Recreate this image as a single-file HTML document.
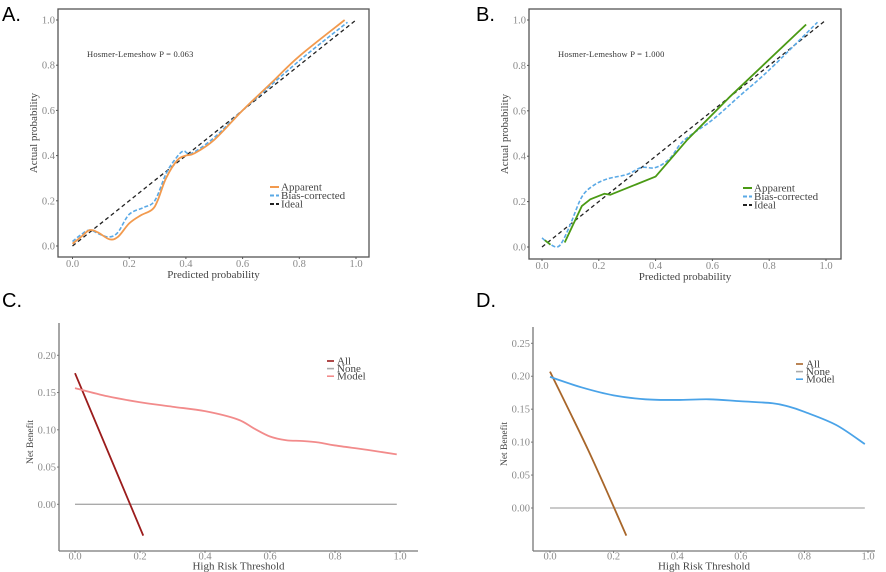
<!DOCTYPE html>
<html><head><meta charset="utf-8"><style>
html,body{margin:0;padding:0;background:#fff;width:886px;height:572px;overflow:hidden}
svg{display:block}
.tk{font-family:"Liberation Serif",serif;font-size:10.5px;fill:#8a8a8a}
.ti{font-family:"Liberation Serif",serif;font-size:11px;fill:#444}
.lg{font-family:"Liberation Serif",serif;font-size:11px;fill:#444}
.pl{font-family:"Liberation Sans",sans-serif;font-size:20px;fill:#000}
.hl{font-family:"Liberation Serif",serif;font-size:8.5px;fill:#333;letter-spacing:0.2px}
</style></head><body>
<svg id="c" width="886" height="572" xmlns="http://www.w3.org/2000/svg"></svg>
<script>
// ---- data ----
const calTicks=[0,0.2,0.4,0.6,0.8,1.0];
const calTickLabels=["0.0","0.2","0.4","0.6","0.8","1.0"];
const aApparentX=[0,0.03,0.06,0.09,0.13,0.16,0.2,0.24,0.28,0.3,0.33,0.37,0.4,0.43,0.5,0.6,0.7,0.8,0.96];
const aApparentY=[0.01,0.04,0.07,0.06,0.03,0.04,0.1,0.135,0.16,0.2,0.3,0.38,0.4,0.41,0.47,0.6,0.72,0.84,1.0];
const aBiasX=[0,0.03,0.06,0.1,0.13,0.16,0.2,0.25,0.29,0.33,0.36,0.39,0.42,0.5,0.6,0.8,0.97];
const aBiasY=[0.02,0.05,0.07,0.05,0.04,0.06,0.14,0.17,0.2,0.32,0.38,0.42,0.41,0.48,0.6,0.82,0.99];
const bApparent1X=[0.01,0.03];
const bApparent1Y=[0.03,0.01];
const bApparent2X=[0.08,0.14,0.17,0.22,0.24,0.4,0.51,0.66,0.93];
const bApparent2Y=[0.02,0.18,0.21,0.235,0.23,0.31,0.47,0.66,0.98];
const bBiasX=[0,0.02,0.05,0.07,0.1,0.14,0.18,0.23,0.3,0.35,0.4,0.45,0.5,0.6,0.7,0.8,0.97];
const bBiasY=[0.04,0.02,0.0,0.02,0.1,0.22,0.27,0.3,0.32,0.35,0.35,0.39,0.47,0.56,0.67,0.78,0.99];
const cTicksY=[0,0.05,0.1,0.15,0.2];
const cTickLabelsY=["0.00","0.05","0.10","0.15","0.20"];
const dTicksY=[0,0.05,0.1,0.15,0.2,0.25];
const dTickLabelsY=["0.00","0.05","0.10","0.15","0.20","0.25"];
const cAllX=[0,0.21];
const cAllY=[0.176,-0.042];
const cModelX=[0,0.1,0.2,0.3,0.4,0.5,0.55,0.6,0.65,0.7,0.75,0.8,0.9,0.99];
const cModelY=[0.156,0.145,0.137,0.131,0.125,0.114,0.102,0.091,0.086,0.085,0.083,0.079,0.073,0.067];
const dAllX=[0,0.06,0.12,0.18,0.24];
const dAllY=[0.207,0.148,0.088,0.024,-0.042];
const dModelX=[0,0.1,0.2,0.3,0.4,0.5,0.6,0.7,0.75,0.8,0.9,0.99];
const dModelY=[0.199,0.183,0.171,0.165,0.164,0.165,0.162,0.159,0.154,0.146,0.126,0.097];
const noneX=[0,0.99];
const noneY=[0,0];

const svg=document.getElementById('c');
const NS='http://www.w3.org/2000/svg';
function mk(tag,attrs,name,parent){const e=document.createElementNS(NS,tag);for(const k in attrs)e.setAttribute(k,attrs[k]);


(parent||svg).appendChild(e);return e;}
function txt(x,y,s,cls,name,anchor,rot){const t=mk('text',{x:x,y:y,class:cls,'text-anchor':anchor||'start'},name);if(rot)t.setAttribute('transform','rotate(-90 '+x+' '+y+')');t.textContent=s;return t;}
function lin(sx,sy){return (v)=>sx[0]+(v-sy[0])*(sx[1]-sx[0])/(sy[1]-sy[0]);}
function pathD(xs,ys,fx,fy,smooth){const p=xs.map((x,i)=>[fx(x),fy(ys[i])]);
 if(!smooth) return 'M'+p.map(q=>q[0].toFixed(1)+','+q[1].toFixed(1)).join(' L');
 let d='M'+p[0][0]+','+p[0][1];
 for(let i=0;i<p.length-1;i++){const p0=p[i-1]||p[i],p1=p[i],p2=p[i+1],p3=p[i+2]||p2;
  d+=' C'+(p1[0]+(p2[0]-p0[0])/6)+','+(p1[1]+(p2[1]-p0[1])/6)+' '+(p2[0]-(p3[0]-p1[0])/6)+','+(p2[1]-(p3[1]-p1[1])/6)+' '+p2[0]+','+p2[1];}
 return d;}
function series(xs,ys,fx,fy,color,w,dash,smooth,name){const a={d:pathD(xs,ys,fx,fy,smooth),fill:'none',stroke:color,'stroke-width':w,'stroke-linejoin':'round'};if(dash)a['stroke-dasharray']=dash;return mk('path',a,name);}

// ---- calibration panels ----
function calPanel(o){
 const fx=lin([o.x0,o.x1],[0,1]),fy=lin([o.y0,o.y1],[0,1]);
 txt(o.lx,o.ly,o.label,'pl',o.p+'-panel-label');
 mk('rect',{x:o.fx0,y:o.fy0,width:o.fx1-o.fx0,height:o.fy1-o.fy0,fill:'none',stroke:'#555','stroke-width':1.3},o.p+'-frame');
 calTicks.forEach((t,i)=>{
  txt(o.fx0-3,fy(t)+3.5,calTickLabels[i],'tk',o.p+'-y-tick-label','end');
  mk('line',{x1:o.fx0-2,x2:o.fx0,y1:fy(t),y2:fy(t),stroke:'#555'},o.p+'-y-tick');
  txt(fx(t),o.fy1+10,calTickLabels[i],'tk',o.p+'-x-tick-label','middle');
  mk('line',{x1:fx(t),x2:fx(t),y1:o.fy1,y2:o.fy1+2,stroke:'#555'},o.p+'-x-tick');
 });
 txt((o.fx0+o.fx1)/2,o.fy1+21,'Predicted probability','ti',o.p+'-x-axis-title','middle');
 txt(o.fx0-21,(o.fy0+o.fy1)/2,'Actual probability','ti',o.p+'-y-axis-title','middle',true);
 txt(o.hx,57,o.hl,'hl',o.p+'-hosmer-lemeshow-text');
 series([0,1],[0,1],fx,fy,'#222',1.3,'4,3',false,o.p+'-ideal-line');
 o.draw(fx,fy);
 const L=[['Apparent',o.c1,null],['Bias-corrected','#5aa9e6','4,2'],['Ideal','#222','4,2']];
 L.forEach((e,i)=>{const y=o.legy+i*8.5;
  const l=mk('line',{x1:o.legx,x2:o.legx+9,y1:y,y2:y,stroke:e[1],'stroke-width':2},o.p+'-legend-swatch');if(e[2])l.setAttribute('stroke-dasharray',e[2]);
  txt(o.legx+11,y+3.5,e[0],'lg',o.p+'-legend-entry');});
}
calPanel({p:'a',label:'A.',lx:2,ly:21,x0:72.5,x1:356,y0:246,y1:20,fx0:58,fx1:369,fy0:9,fy1:257,hx:87,hl:'Hosmer-Lemeshow  P  =  0.063',c1:'#f29a4e',legx:270,legy:187,
 draw:(fx,fy)=>{series(aBiasX,aBiasY,fx,fy,'#5aa9e6',1.6,'4,2',true,'a-bias-corrected-line');series(aApparentX,aApparentY,fx,fy,'#f29a4e',1.8,null,true,'a-apparent-line');}});
calPanel({p:'b',label:'B.',lx:476,ly:21,x0:542,x1:826,y0:247,y1:20,fx0:529,fx1:841,fy0:9,fy1:259,hx:558,hl:'Hosmer-Lemeshow  P  =  1.000',c1:'#4a9a14',legx:743,legy:188,
 draw:(fx,fy)=>{series(bBiasX,bBiasY,fx,fy,'#5aa9e6',1.6,'4,2',true,'b-bias-corrected-line');series(bApparent1X,bApparent1Y,fx,fy,'#4a9a14',1.8,null,false,'b-apparent-line-start');series(bApparent2X,bApparent2Y,fx,fy,'#4a9a14',1.8,null,false,'b-apparent-line');}});

// ---- decision curve panels ----
function dcaPanel(o){
 const fx=lin([o.x0,o.x1],[0,1]),fy=lin([o.y0,o.y1],[0,o.yv1]);
 txt(o.lx,o.ly,o.label,'pl',o.p+'-panel-label');
 mk('line',{x1:o.ax,x2:o.ax,y1:o.at,y2:o.ab,stroke:'#777','stroke-width':1.3},o.p+'-y-axis-line');
 mk('line',{x1:o.ax,x2:o.ar,y1:o.ab,y2:o.ab,stroke:'#777','stroke-width':1.3},o.p+'-x-axis-line');
 o.yt.forEach((t,i)=>{txt(o.ax-3,fy(t)+3.5,o.yl[i],'tk',o.p+'-y-tick-label','end');
  mk('line',{x1:o.ax-2,x2:o.ax,y1:fy(t),y2:fy(t),stroke:'#777'},o.p+'-y-tick');});
 calTicks.forEach((t,i)=>{txt(fx(t),o.ab+8.5,calTickLabels[i],'tk',o.p+'-x-tick-label','middle');
  mk('line',{x1:fx(t),x2:fx(t),y1:o.ab,y2:o.ab+2,stroke:'#777'},o.p+'-x-tick');});
 txt((o.ax+o.ar)/2,o.ab+18.5,'High Risk Threshold','ti',o.p+'-x-axis-title','middle');
 txt(o.ax-26,(o.at+o.ab)/2+5,'Net Benefit','ti',o.p+'-y-axis-title','middle',true).setAttribute('style','font-size:9.5px');
 series(noneX,noneY,fx,fy,'#aaa',1.3,null,false,o.p+'-none-line');
 series(o.allX,o.allY,fx,fy,o.cAll,1.8,null,true,o.p+'-all-line');
 series(o.mX,o.mY,fx,fy,o.cM,1.8,null,true,o.p+'-model-line');
 [['All',o.cAll],['None','#aaa'],['Model',o.cM]].forEach((e,i)=>{const y=o.legy+i*7.6;
  mk('line',{x1:o.legx,x2:o.legx+7,y1:y,y2:y,stroke:e[1],'stroke-width':1.6},o.p+'-legend-swatch');
  txt(o.legx+10,y+3.5,e[0],'lg',o.p+'-legend-entry');});
}
dcaPanel({p:'c',label:'C.',lx:2,ly:307,x0:75,x1:400,y0:504.3,y1:355.3,yv1:0.2,ax:59,at:323,ab:551,ar:418,yt:cTicksY,yl:cTickLabelsY,
 allX:cAllX,allY:cAllY,mX:cModelX,mY:cModelY,cAll:'#9b1c1c',cM:'#f28b8b',legx:327,legy:361});
dcaPanel({p:'d',label:'D.',lx:476,ly:307,x0:550,x1:868,y0:508,y1:343.3,yv1:0.25,ax:533,at:327,ab:551,ar:875,yt:dTicksY,yl:dTickLabelsY,
 allX:dAllX,allY:dAllY,mX:dModelX,mY:dModelY,cAll:'#a8662a',cM:'#4aa3e8',legx:796,legy:364});
</script>
</body></html>
